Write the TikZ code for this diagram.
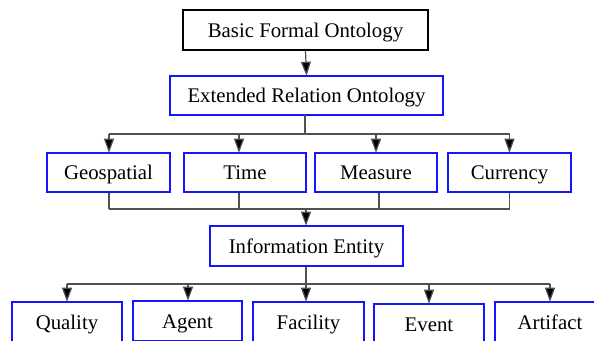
\documentclass[tikz,border=0pt]{standalone}
\usepackage{fontspec}
\setmainfont{Liberation Serif}
\usetikzlibrary{arrows.meta}
\definecolor{boxblue}{RGB}{20,20,255}
\definecolor{linegray}{RGB}{80,80,80}
\tikzset{
  box/.style={draw=boxblue, line width=1.6pt, fill=white, inner sep=0pt,
    minimum height=39pt, text height=16pt, text depth=2pt,
    font=\fontsize{20.8}{24}\selectfont},
  topbox/.style={box, draw=black, line width=1.4pt},
  conn/.style={draw=linegray, line width=1.2pt},
  arr/.style={conn, -{Triangle[width=10pt,length=14pt,fill=black]}, shorten >=-0.5pt},
}
\begin{document}
\begin{tikzpicture}[x=1pt,y=-1pt]
\useasboundingbox (0,0) rectangle (594,340);
\clip (0,0) rectangle (594,340);
% boxes
\node[topbox, minimum width=245pt, minimum height=40pt] (bfo) at (305.5,30) {Basic Formal Ontology};
\node[box, minimum width=273pt] (ero) at (306.5,95.5) {Extended Relation Ontology};
\node[box, minimum width=123pt] (geo) at (108.5,172.5) {Geospatial};
\node[box, minimum width=122pt] (time) at (245,172.5) {Time};
\node[box, minimum width=122pt] (meas) at (376,172.5) {Measure};
\node[box, minimum width=123pt] (curr) at (509.5,172.5) {Currency};
\node[box, minimum width=193pt, minimum height=40pt] (info) at (306.5,246) {Information Entity};
\node[box, minimum width=110pt, minimum height=40pt] (qual) at (67,322) {Quality};
\node[box, minimum width=109pt, minimum height=40pt] (agent) at (187.5,321) {Agent};
\node[box, minimum width=111pt, minimum height=40pt] (fac) at (308.5,322) {Facility};
\node[box, minimum width=110pt, minimum height=40pt] (event) at (429,324) {Event};
\node[box, minimum width=110pt, minimum height=40pt] (art) at (550,322) {Artifact};
% BFO -> ERO
\draw[arr] (bfo.south) -- (ero.north);
% ERO -> row 2
\coordinate (b1) at (305,134);
\draw[conn] (305,115) -- (b1);
\draw[conn] (109,134) -- (509.5,134);
\draw[arr] (109,134) -- (geo.north -| 109,0);
\draw[arr] (239,134) -- (time.north -| 239,0);
\draw[arr] (376,134) -- (meas.north);
\draw[arr] (509.5,134) -- (curr.north);
% row 2 -> info
\draw[conn] (geo.south -| 109,0) -- (109,209);
\draw[conn] (time.south -| 239,0) -- (239,209);
\draw[conn] (meas.south -| 379,0) -- (379,209);
\draw[conn] (curr.south) -- (509.5,209);
\draw[conn] (109,209) -- (509.5,209);
\draw[arr] (306,209) -- (info.north -| 306,0);
% info -> bottom row
\draw[conn] (info.south -| 306,0) -- (306,284);
\draw[conn] (67,284) -- (550,284);
\draw[arr] (67,284) -- (qual.north);
\draw[arr] (188,284) -- (agent.north -| 188,0);
\draw[arr] (306,284) -- (fac.north -| 306,0);
\draw[arr] (429,284) -- (event.north);
\draw[arr] (550,284) -- (art.north);
\end{tikzpicture}
\end{document}
